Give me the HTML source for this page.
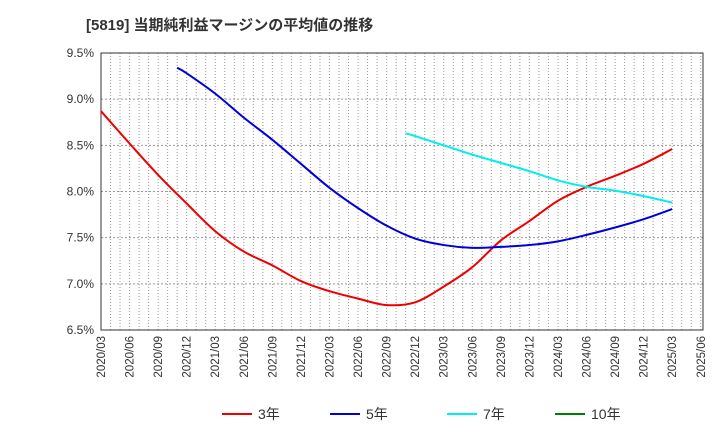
<!DOCTYPE html>
<html><head><meta charset="utf-8"><style>
body{margin:0;background:#fff;font-family:"Liberation Sans","Noto Sans CJK JP",sans-serif;}
</style></head><body>
<svg id="c" width="720" height="440" xmlns="http://www.w3.org/2000/svg">
<text x="86" y="30" font-size="15" font-weight="bold" fill="#333" font-family="Liberation Sans, Noto Sans CJK JP, sans-serif">[5819]  当期純利益マージンの平均値の推移</text>
</svg>
<script>
const xLabels=["2020/03","2020/06","2020/09","2020/12","2021/03","2021/06","2021/09","2021/12","2022/03","2022/06","2022/09","2022/12","2023/03","2023/06","2023/09","2023/12","2024/03","2024/06","2024/09","2024/12","2025/03","2025/06"];
const yTicks=[6.5,7.0,7.5,8.0,8.5,9.0,9.5];
const s3m=[0,3,6,9,12,15,18,21,24,27,30,33,36,39,42,45,48,51,54,57,60];
const s3v=[8.87,8.52,8.18,7.87,7.57,7.35,7.2,7.03,6.92,6.84,6.77,6.8,6.97,7.18,7.47,7.68,7.9,8.05,8.17,8.3,8.46];
const s5m=[8,9,12,15,18,21,24,27,30,33,36,39,42,45,48,51,54,57,60];
const s5v=[9.34,9.28,9.06,8.8,8.56,8.3,8.04,7.82,7.63,7.49,7.42,7.39,7.4,7.42,7.46,7.53,7.61,7.7,7.81];
const s7m=[32,33,36,39,42,45,48,51,54,57,60];
const s7v=[8.63,8.6,8.5,8.4,8.31,8.22,8.12,8.05,8.01,7.95,7.88];
const s10m=[];const s10v=[];
const L=101,R=703,T=53,B=330;
const X=m=>L+m*9.52;
const Y=v=>B-(v-6.5)/3*(B-T);
const svg=document.getElementById('c');
const NS='http://www.w3.org/2000/svg';
function mk(t,a){const e=document.createElementNS(NS,t);for(const k in a)e.setAttribute(k,a[k]);svg.appendChild(e);return e;}
for(let m=0;m<=63;m++){const e=mk('line',{x1:X(m),x2:X(m),y1:T,y2:B,stroke:'#999','stroke-dasharray':'1,2','stroke-width':1});

}
yTicks.forEach(v=>{const e=mk('line',{x1:L,x2:R,y1:Y(v),y2:Y(v),stroke:'#999','stroke-dasharray':'2,2'});


const t=mk('text',{x:L-7,y:Y(v)+4,'text-anchor':'end','font-size':12,fill:'#333'});t.textContent=v.toFixed(1)+'%';

});
xLabels.forEach((s,i)=>{const x=X(i*3)+4;const t=mk('text',{x:x,y:B+6,'text-anchor':'end','font-size':11.5,fill:'#333',transform:`rotate(-90 ${x} ${B+6})`});t.textContent=s;

});
const f=mk('rect',{x:L,y:T,width:R-L,height:B-T,fill:'none',stroke:'#333'});


function line(ms,vs,c,n){if(!ms.length)return;
const P=ms.map((m,i)=>[X(m),Y(vs[i])]);
let d='M'+P[0][0]+','+P[0][1];
for(let i=0;i<P.length-1;i++){const p0=P[Math.max(0,i-1)],p1=P[i],p2=P[i+1],p3=P[Math.min(P.length-1,i+2)];
const c1=[p1[0]+(p2[0]-p0[0])/6,p1[1]+(p2[1]-p0[1])/6],c2=[p2[0]-(p3[0]-p1[0])/6,p2[1]-(p3[1]-p1[1])/6];
d+=` C${c1[0]},${c1[1]} ${c2[0]},${c2[1]} ${p2[0]},${p2[1]}`;}
const p=mk('path',{d:d,fill:'none',stroke:c,'stroke-width':2,'stroke-linejoin':'round'});

}
line(s3m,s3v,'#ee0000','series-3yr');
line(s5m,s5v,'#0000dd','series-5yr');
line(s7m,s7v,'#00eeee','series-7yr');
line(s10m,s10v,'#008000','series-10yr');
[['3年','#ee0000',222],['5年','#0000dd',330],['7年','#00eeee',447],['10年','#008000',555]].forEach(([n,c,x])=>{
const l=mk('line',{x1:x,x2:x+30,y1:414,y2:414,stroke:c,'stroke-width':2});


const t=mk('text',{x:x+36,y:419,'font-size':14,fill:'#333'});t.textContent=n;

});
</script>
</body></html>
